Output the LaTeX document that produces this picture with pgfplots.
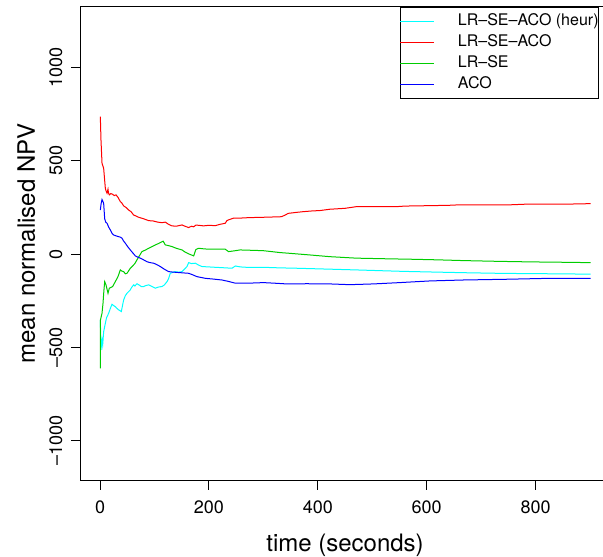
\documentclass[border=0pt]{standalone}
\usepackage{fontspec}
\setmainfont{TeX Gyre Heros}
\usepackage{pgfplots}
\pgfplotsset{compat=1.18}

\definecolor{rcyan}{RGB}{0,255,255}
\definecolor{rred}{RGB}{255,0,0}
\definecolor{rgreen}{RGB}{0,205,0}
\definecolor{rblue}{RGB}{0,0,255}

\begin{document}
\begin{tikzpicture}
\useasboundingbox (0,0) rectangle (603bp,557bp);
\begin{axis}[
  at={(80.4bp,76.5bp)}, anchor=south west,
  scale only axis, width=529.3bp, height=473.8bp,
  xmin=-36, xmax=936, ymin=-1212, ymax=1326,
  axis line style={black, line width=1bp},
  tick align=outside, tick pos=left,
  major tick length=9.3bp,
  tick style={black, line width=1bp},
  xtick={0,200,400,600,800},
  xticklabels={0,200,400,600,800},
  ytick={-1000,-500,0,500,1000},
  yticklabels={–1000,–500,0,500,1000},
  ticklabel style={font=\fontsize{18bp}{20bp}\selectfont},
  xticklabel style={anchor=north, inner sep=0pt, yshift=-10.7bp},
  yticklabel style={xshift=-9.1bp, rotate=90, anchor=base, inner sep=0pt},
  xlabel={time (seconds)},
  ylabel={mean normalised NPV},
  xlabel style={at={(axis description cs:0.5,-0.1488)}, anchor=base, inner sep=0pt,
    font=\fontsize{24bp}{28bp}\selectfont},
  ylabel style={at={(axis description cs:-0.0858,0.5)}, anchor=base, inner sep=0pt,
    font=\fontsize{24bp}{28bp}\selectfont},
  legend style={at={(axis description cs:0.9798,1)}, anchor=north east,
    draw=black, line width=0.8bp, fill=white,
    inner xsep=0pt, inner ysep=6.5bp,
    font=\fontsize{16bp}{19bp}\selectfont,
    row sep=5.5bp, column sep=23bp,
    nodes={inner sep=0pt, text height=12bp, text depth=3.5bp}},
  legend cell align=left,
  legend image code/.code={\path (0bp,0bp) -- (34bp,0bp);
    \draw[#1, line width=1bp] (12bp,0bp) -- (34bp,0bp);},
  every axis plot/.append style={line width=1bp},
]
% LR-SE-ACO (heur)
\addplot[rcyan] coordinates {
(0.6,-352)(1.8,-513)(3.7,-459)(4.9,-486)(6.7,-415)(9.8,-370)(12,-340)(15.9,-316)
(19,-290)(22,-268)(25,-275)(28.1,-281)(31,-290)(34.3,-298)(39.1,-307)(43.4,-245)
(46.5,-222)(49.6,-209)(55.7,-191)(58,-178)(61.8,-164)(64,-170)(67.9,-158)(72,-165)
(75.8,-173)(80,-173)(84,-168)(89.4,-164)(95,-172)(101.6,-182)(107,-176)(113.7,-173)
(118,-165)(123,-147)(126,-130)(129,-102)(133,-98)(138.3,-93)(144,-96)(150.6,-93)
(155,-80)(159.7,-66)(162.8,-45)(168,-50)(175,-48)(181,-58)(187.3,-66)(200,-68)
(211.7,-70)(225,-72)(242.4,-75)(248.5,-63)(258,-68)(269,-70)(300,-70)(330,-73)
(361,-75)(422,-80)(470,-84)(514,-88)(560,-92)(606,-95)(670,-99)(728,-102)(790,-104)
(851,-105)(901,-107)
};
% LR-SE-ACO
\addplot[rred] coordinates {
(0.6,737)(1.8,612)(3.7,487)(6.7,461)(9.8,353)(11,340)(12.9,327)(14.7,348)(15.5,330)
(17.1,318)(20,325)(23.2,321)(26,314)(29.4,318)(33,305)(37.3,282)(40,275)(43.4,259)
(48,250)(52.6,237)(57,228)(61.8,210)(66,205)(71,198)(80,190)(89.4,180)(98,178)
(106,172)(113.7,169)(120,172)(126,160)(132,152)(140,150)(150.6,157)(156,150)
(162.8,143)(168,150)(172,147)(176,156)(181,155)(190,152)(200,155)(211.7,153)
(220,160)(230,166)(233,180)(236,184)(244.8,193)(260,194)(273,196)(300,198)
(333.4,201)(340,210)(345.8,219)(360,224)(373,228)(390,232)(404,234)(422,241)
(450,246)(471,255)(500,255)(544.6,255)(560,258)(600,260)(640,262)(655,264)
(700,264)(746.6,264)(789.6,269)(851,268)(901,271)
};
% LR-SE
\addplot[rgreen] coordinates {
(0.6,-611)(0.8,-352)(3.7,-316)(5.5,-263)(7,-200)(8.6,-147)(11,-164)(14.7,-209)
(17.1,-182)(20,-178)(23.2,-173)(28.1,-147)(33,-120)(37.3,-84)(40,-90)(43.4,-93)
(46.5,-105)(49.6,-102)(55.7,-75)(58.8,-66)(61.8,-57)(64,-50)(67.9,-30)(72,-10)
(77,14)(83,22)(89.4,32)(95,40)(101.6,50)(108,58)(113.7,67)(116,70)(119.9,50)
(126,46)(132.2,41)(140,32)(150.6,23)(156,12)(162.8,2)(168,-4)(172,-9)(176,25)
(181,32)(190,29)(199.4,27)(215,28)(230,27)(236,14)(248.5,19)(257,23)(280,21)
(300,19)(330.5,9)(361,2)(390,-5)(422,-13)(471,-21)(520,-24)(575,-27)(620,-30)
(667,-34)(730,-38)(789.6,-41)(850,-43)(901,-45)
};
% ACO
\addplot[rblue] coordinates {
(0.6,237)(2,270)(3.7,293)(5,285)(6.7,273)(8.6,190)(10.5,172)(12.9,166)(16,145)
(19,130)(22,112)(25.1,103)(30,98)(34.3,94)(37,92)(40.4,86)(43,72)(46.5,59)
(51,40)(55.7,23)(60,8)(64.9,-9)(69,-15)(74,-21)(80,-30)(86.3,-40)(92,-45)
(98.5,-48)(104,-55)(110.8,-66)(118,-80)(126,-93)(135,-96)(144.5,-98)(153,-100)
(162.8,-102)(170,-110)(178,-120)(185,-124)(193.4,-129)(208,-133)(224,-138)
(235,-145)(248.5,-155)(257,-155)(273,-155)(300,-152)(320,-155)(342.6,-159)
(380,-158)(422,-159)(459,-163)(502,-159)(550,-152)(606,-143)(667,-138)
(746.6,-134)(826,-129)(901,-129)
};
\legend{LR–SE–ACO (heur), LR–SE–ACO, LR–SE, ACO}
\end{axis}
\end{tikzpicture}
\end{document}
